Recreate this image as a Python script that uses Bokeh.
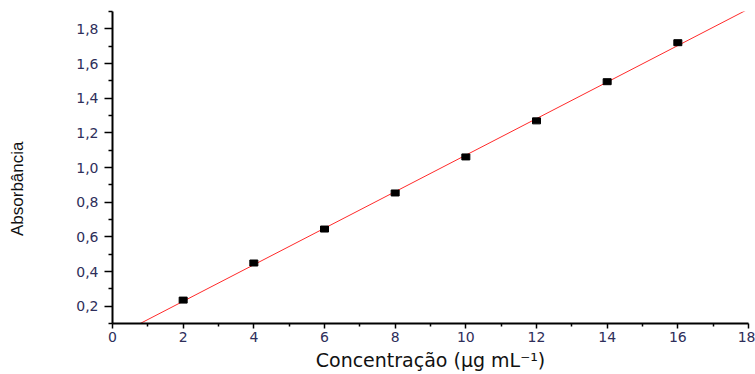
import numpy as np
from bokeh.plotting import figure
from bokeh.models import FixedTicker, CustomJSTickFormatter, Range1d
from bokeh.embed import file_html
from bokeh.resources import INLINE

# data
conc = [2, 4, 6, 8, 10, 12, 14, 16]
absorb = [0.235, 0.449, 0.645, 0.853, 1.061, 1.269, 1.495, 1.720]

x_ticks = [0, 2, 4, 6, 8, 10, 12, 14, 16, 18]
x_minor = [1, 3, 5, 7, 9, 11, 13, 15, 17]
y_ticks = [0.2, 0.4, 0.6, 0.8, 1.0, 1.2, 1.4, 1.6, 1.8]
y_minor = [0.1, 0.3, 0.5, 0.7, 0.9, 1.1, 1.3, 1.5, 1.7, 1.9]

# linear fit of the calibration data
slope, intercept = np.polyfit(conc, absorb, 1)
fit_x = [0, 18]
fit_y = [intercept + slope * v for v in fit_x]

p = figure(width=755, height=374, output_backend="svg", toolbar_location=None,
           x_range=Range1d(0, 18), y_range=Range1d(0.1, 1.9),
           min_border_left=112, min_border_right=7, min_border_top=11,
           min_border_bottom=51)
p.outline_line_color = None
p.xgrid.visible = False
p.ygrid.visible = False
p.background_fill_color = "white"
p.border_fill_color = "white"

p.line(fit_x, fit_y, line_color="#ff2a2a", line_width=1)
p.rect(conc, absorb, width=8, height=6, width_units="screen", height_units="screen",
       fill_color="black", line_color="black")

tick_col = "#2e2e5a"
for ax in (p.xaxis[0], p.yaxis[0]):
    ax.axis_line_width = 2
    ax.axis_line_color = "black"
    ax.major_tick_line_width = 1.5
    ax.minor_tick_line_width = 1.5
    ax.major_tick_line_color = "black"
    ax.minor_tick_line_color = "black"
    ax.major_tick_in = 0
    ax.minor_tick_in = 0
    ax.major_label_text_font = "DejaVu Sans"
    ax.major_label_text_font_size = "14px"
    ax.major_label_text_color = tick_col

p.xaxis.ticker = FixedTicker(ticks=x_ticks, minor_ticks=x_minor)
p.yaxis.ticker = FixedTicker(ticks=y_ticks, minor_ticks=y_minor)
p.yaxis.formatter = CustomJSTickFormatter(code="return tick.toFixed(1).replace('.', ',');")
p.xaxis.formatter = CustomJSTickFormatter(code="return tick.toFixed(0);")

p.xaxis.major_tick_out = 5
p.xaxis.minor_tick_out = 3
p.xaxis.major_label_standoff = 3
p.yaxis.major_tick_out = 8
p.yaxis.minor_tick_out = 4
p.yaxis.major_label_standoff = 6

p.xaxis.axis_label = "Concentração (µg mL⁻¹)"
p.xaxis.axis_label_text_font = "DejaVu Sans"
p.xaxis.axis_label_text_font_size = "19px"
p.xaxis.axis_label_text_font_style = "normal"
p.xaxis.axis_label_text_color = "#111111"
p.xaxis.axis_label_standoff = 4

# trailing no-break spaces shift the rotated title downwards, as in the original
p.yaxis.axis_label = "Absorbância" + "\u00a0" * 9
p.yaxis.axis_label_text_font = "Liberation Sans"
p.yaxis.axis_label_text_font_size = "17px"
p.yaxis.axis_label_text_font_style = "normal"
p.yaxis.axis_label_text_color = "#111111"
p.yaxis.axis_label_standoff = 46

open("out.html", "w").write(file_html(p, INLINE))
